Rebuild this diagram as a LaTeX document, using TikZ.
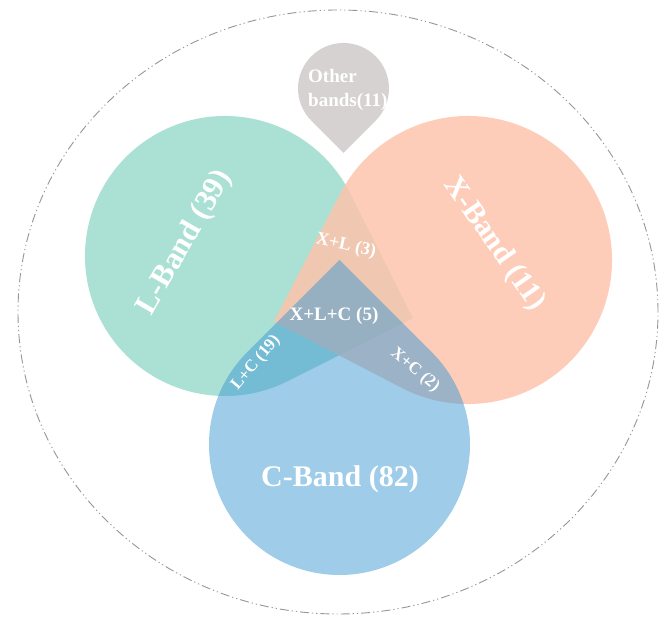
\documentclass[tikz,border=0pt]{standalone}
\usepackage{fontspec}
\setmainfont{Liberation Serif}
\definecolor{lgreen}{RGB}{170,225,212}
\definecolor{xorange}{RGB}{253,196,173}
\definecolor{cblue}{RGB}{61,153,211}
\definecolor{ogray}{RGB}{214,210,210}
\definecolor{ringgray}{RGB}{150,150,150}
\begin{document}
\begin{tikzpicture}[x=1pt,y=1pt,
  lbl/.style={text=white, inner sep=0pt},
  big/.style={lbl, font=\fontsize{30}{30}\selectfont\bfseries},
  small/.style={lbl, font=\fontsize{18}{18}\selectfont\bfseries},
  ring/.style={draw=ringgray, line width=0.9pt, dash pattern=on 9pt off 3pt on 1.2pt off 3pt on 1.2pt off 3pt}]
\useasboundingbox (0,0) rectangle (659,617);
% L-band
\fill[lgreen, shift={(225,361)}, rotate=-63.3]
  (0,140) arc[start angle=90, end angle=360, radius=140pt] -- (140,140) -- cycle;
% X-band
\fill[xorange, fill opacity=0.85, shift={(468,357)}, rotate=152.6]
  (0,144) arc[start angle=90, end angle=360, radius=144pt] -- (144,144) -- cycle;
% C-band
\fill[cblue, fill opacity=0.5, shift={(339.5,172.5)}, rotate=45]
  (0,130.5) arc[start angle=90, end angle=360, radius=130.5pt] -- (130.5,130.5) -- cycle;
% Other bands
\fill[ogray, shift={(343.5,528.5)}, rotate=-135]
  (0,45.5) arc[start angle=90, end angle=360, radius=45.5pt] -- (45.5,45.5) -- cycle;
% outer ring
\draw[ring] (338,305) ellipse [x radius=320pt, y radius=302pt];
% labels
\node[big, font=\fontsize{31}{31}\selectfont\bfseries, rotate=60] (lband) at (185,374) {L-Band (39)};
\node[big, rotate=-55] (xband) at (494,373) {X-Band (11)};
\node[big, anchor=base] (cband) at (340,130) {C-Band (82)};
\node[lbl, font=\fontsize{19}{19}\selectfont\bfseries, anchor=base west] (oth1) at (308,534) {Other};
\node[lbl, font=\fontsize{19}{19}\selectfont\bfseries, anchor=base west] (oth2) at (308,510) {bands(11)};
\node[small, rotate=-12] (xl) at (346,371) {X+L (3)};
\node[small, font=\fontsize{19}{19}\selectfont\bfseries, anchor=base] (xlc) at (334,296) {X+L+C (5)};
\node[small, font=\fontsize{17}{17}\selectfont\bfseries, rotate=50] (lc) at (256,254) {L+C (19)};
\node[small, font=\fontsize{17}{17}\selectfont\bfseries, rotate=-40] (xc) at (415,247) {X+C (2)};
\end{tikzpicture}
\end{document}
